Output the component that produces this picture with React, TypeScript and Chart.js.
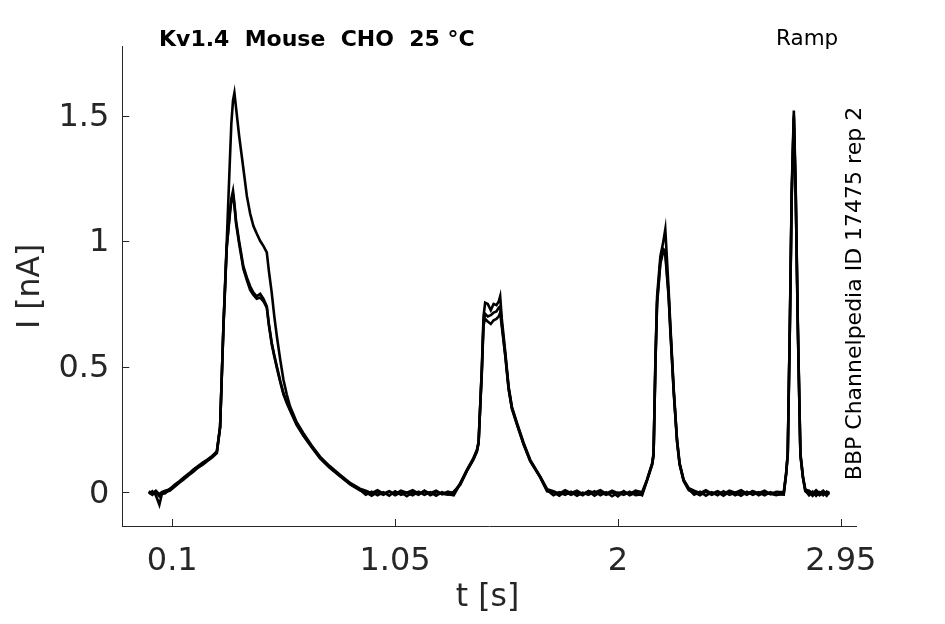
import { useEffect, useRef } from "react";
import { Chart, registerables } from "chart.js";

Chart.register(...registerables);

// ---- data (time in s, current in nA) ----
const timeS = [
  0.000, 0.015, 0.030, 0.045, 0.055, 0.070, 0.090, 0.110, 0.130, 0.150, 0.170, 0.190, 0.210, 0.230, 0.250, 0.270, 0.290,
  0.304, 0.318, 0.332, 0.346, 0.352, 0.359, 0.365, 0.372, 0.385, 0.403, 0.418, 0.432, 0.446, 0.460, 0.475, 0.489, 0.503,
  0.512, 0.524, 0.535, 0.546, 0.560, 0.574, 0.588, 0.602, 0.630, 0.659, 0.695, 0.730, 0.770, 0.815, 0.860, 0.900,
  0.925, 0.950, 0.975, 1.000, 1.025, 1.050, 1.075, 1.100, 1.125, 1.150, 1.175, 1.200, 1.225, 1.250, 1.275, 1.300,
  1.328, 1.356, 1.384, 1.399, 1.406, 1.420, 1.427, 1.434, 1.445, 1.458, 1.470, 1.482, 1.492, 1.498, 1.505, 1.520,
  1.534, 1.548, 1.570, 1.598, 1.626, 1.669, 1.698,
  1.725, 1.750, 1.775, 1.800, 1.825, 1.850, 1.875, 1.900, 1.925, 1.950, 1.975, 2.000, 2.025, 2.050, 2.075, 2.103,
  2.124, 2.146, 2.152, 2.160, 2.167, 2.181, 2.192, 2.202, 2.216, 2.223, 2.238, 2.252, 2.263, 2.280, 2.302,
  2.325, 2.350, 2.375, 2.400, 2.425, 2.450, 2.475, 2.500, 2.525, 2.550, 2.575, 2.600, 2.625, 2.650, 2.675, 2.707,
  2.717, 2.724, 2.733, 2.741, 2.750, 2.758, 2.767, 2.778, 2.789, 2.799,
  2.815, 2.830, 2.845, 2.860, 2.875, 2.890, 2.900,
];

const sweepA = [
  0.004, -0.006, 0.006, -0.008, 0.000, 0.006, 0.012, 0.030, 0.044, 0.060, 0.074, 0.090, 0.104, 0.118, 0.130, 0.144, 0.162,
  0.262, 0.660, 0.990, 1.330, 1.470, 1.560, 1.590, 1.530, 1.420, 1.290, 1.180, 1.110, 1.060, 1.030, 1.000, 0.980, 0.955,
  0.880, 0.795, 0.700, 0.620, 0.530, 0.448, 0.390, 0.342, 0.280, 0.235, 0.185, 0.142, 0.105, 0.070, 0.036, 0.014,
  0.006, -0.004, 0.008, -0.006, 0.004, -0.008, 0.006, -0.002, 0.008, -0.006, 0.004, -0.004, 0.006, -0.008, 0.002, -0.004,
  0.036, 0.089, 0.136, 0.169, 0.200, 0.500, 0.700, 0.755, 0.750, 0.725, 0.750, 0.745, 0.760, 0.780, 0.690, 0.556,
  0.420, 0.340, 0.275, 0.196, 0.129, 0.062, 0.012,
  0.004, -0.006, 0.008, -0.004, 0.006, -0.008, 0.004, -0.002, 0.008, -0.006, 0.006, -0.004, 0.002, -0.008, 0.006, 0.000,
  0.050, 0.116, 0.156, 0.540, 0.780, 0.940, 0.990, 1.047, 0.810, 0.675, 0.410, 0.210, 0.116, 0.050, 0.016,
  0.006, -0.004, 0.008, -0.006, 0.004, -0.008, 0.006, -0.002, 0.008, -0.006, 0.004, -0.004, 0.006, -0.008, 0.002, 0.000,
  0.076, 0.156, 0.675, 1.207, 1.520, 1.207, 0.675, 0.156, 0.062, 0.010,
  0.006, -0.006, 0.008, -0.004, 0.006, -0.008, 0.004,
];

const sweepB = [
  -0.006, 0.004, -0.012, -0.050, -0.010, 0.000, 0.006, 0.022, 0.038, 0.052, 0.068, 0.082, 0.098, 0.110, 0.124, 0.138, 0.156,
  0.258, 0.650, 0.970, 1.120, 1.170, 1.200, 1.150, 1.080, 1.000, 0.900, 0.855, 0.820, 0.795, 0.780, 0.790, 0.770, 0.740,
  0.670, 0.595, 0.545, 0.500, 0.445, 0.395, 0.360, 0.330, 0.272, 0.228, 0.180, 0.138, 0.100, 0.066, 0.032, 0.010,
  -0.010, 0.002, -0.012, 0.000, -0.014, 0.004, -0.010, -0.002, -0.012, 0.002, -0.010, 0.000, -0.014, 0.000, -0.008, -0.012,
  0.034, 0.086, 0.133, 0.166, 0.200, 0.490, 0.680, 0.710, 0.700, 0.705, 0.715, 0.720, 0.735, 0.740, 0.670, 0.545,
  0.415, 0.336, 0.270, 0.192, 0.126, 0.060, 0.008,
  -0.012, 0.000, -0.010, 0.002, -0.014, -0.002, -0.010, 0.004, -0.012, 0.000, -0.016, -0.002, -0.010, 0.002, -0.012, -0.008,
  0.048, 0.112, 0.150, 0.520, 0.760, 0.920, 0.970, 0.960, 0.790, 0.660, 0.400, 0.205, 0.112, 0.048, 0.012,
  -0.010, 0.002, -0.014, 0.000, -0.012, 0.004, -0.010, -0.002, -0.014, 0.002, -0.010, 0.000, -0.012, 0.000, -0.008, -0.010,
  0.072, 0.150, 0.660, 1.190, 1.500, 1.190, 0.660, 0.150, 0.058, 0.006,
  -0.012, 0.002, -0.014, 0.000, -0.012, 0.002, -0.010,
];

const sweepC = [
  0.000, -0.010, 0.002, -0.016, -0.006, -0.004, 0.014, 0.026, 0.040, 0.056, 0.070, 0.086, 0.100, 0.114, 0.128, 0.142, 0.160,
  0.260, 0.655, 0.975, 1.110, 1.160, 1.185, 1.140, 1.070, 0.990, 0.890, 0.845, 0.805, 0.785, 0.770, 0.775, 0.760, 0.735,
  0.665, 0.590, 0.540, 0.495, 0.440, 0.390, 0.355, 0.325, 0.268, 0.225, 0.178, 0.135, 0.098, 0.064, 0.030, 0.008,
  0.000, -0.014, 0.000, -0.010, 0.002, -0.012, 0.000, -0.016, 0.000, -0.010, 0.006, -0.012, 0.000, -0.006, -0.010, 0.002,
  0.030, 0.084, 0.130, 0.162, 0.195, 0.480, 0.665, 0.690, 0.680, 0.670, 0.685, 0.690, 0.700, 0.715, 0.660, 0.540,
  0.410, 0.332, 0.268, 0.190, 0.124, 0.058, 0.004,
  0.000, -0.014, 0.002, -0.010, 0.000, -0.012, 0.004, -0.014, 0.000, -0.010, 0.000, -0.016, 0.004, -0.012, -0.002, -0.012,
  0.046, 0.110, 0.148, 0.510, 0.750, 0.910, 0.955, 0.945, 0.780, 0.650, 0.395, 0.200, 0.110, 0.045, 0.008,
  0.000, -0.012, 0.002, -0.010, 0.000, -0.014, 0.002, -0.012, 0.000, -0.010, 0.004, -0.012, 0.000, -0.006, -0.012, -0.004,
  0.070, 0.148, 0.650, 1.180, 1.490, 1.180, 0.650, 0.148, 0.056, 0.004,
  0.000, -0.014, 0.002, -0.012, 0.000, -0.014, 0.000,
];

const xTickValues = [0.1, 1.05, 2, 2.95];
const xTickLabels = ["0.1", "1.05", "2", "2.95"];
const yTickValues = [0, 0.5, 1, 1.5];
const yTickLabels = ["0", "0.5", "1", "1.5"];

const titleText = "Kv1.4  Mouse  CHO  25 °C";
const protocolText = "Ramp";
const sourceText = "BBP Channelpedia ID 17475 rep 2";
const xAxisLabel = "t [s]";
const yAxisLabel = "I [nA]";

// ---- styling ----
const FONT = "'DejaVu Sans', sans-serif";
const AXIS_COLOR = "#262626";
const W = 945;
const H = 624;

const annotatePlugin = {
  id: "annotate",
  afterDraw(chart: any) {
    const ctx = chart.ctx as CanvasRenderingContext2D;
    const area = chart.chartArea;
    const xs = chart.scales.x;
    const ys = chart.scales.y;
    ctx.save();
    // inward tick marks
    ctx.strokeStyle = AXIS_COLOR;
    ctx.lineWidth = 1;
    ctx.beginPath();
    xs.ticks.forEach((t: any) => {
      const p = Math.round(xs.getPixelForValue(t.value)) + 0.5;
      ctx.moveTo(p, area.bottom);
      ctx.lineTo(p, area.bottom - 7);
    });
    ys.ticks.forEach((t: any) => {
      const p = Math.round(ys.getPixelForValue(t.value)) + 0.5;
      ctx.moveTo(area.left, p);
      ctx.lineTo(area.left + 7, p);
    });
    ctx.stroke();

    // title
    ctx.fillStyle = "#000";
    ctx.textBaseline = "alphabetic";
    ctx.textAlign = "left";
    ctx.font = `bold 22px ${FONT}`;
    ctx.fillText(titleText, 159, 45.5);
    ctx.font = `21.5px ${FONT}`;
    ctx.fillText(protocolText, 776, 45);

    // rotated source text
    ctx.save();
    ctx.translate(860.5, 293.5);
    ctx.rotate(-Math.PI / 2);
    ctx.textAlign = "center";
    ctx.font = `22px ${FONT}`;
    ctx.fillText(sourceText, 0, 0);
    ctx.restore();

    // axis labels
    ctx.fillStyle = AXIS_COLOR;
    ctx.font = `31.5px ${FONT}`;
    ctx.textAlign = "center";
    ctx.fillText(xAxisLabel, (area.left + area.right) / 2 - 2, 606);
    ctx.save();
    ctx.translate(38.5, (area.top + area.bottom) / 2);
    ctx.rotate(-Math.PI / 2);
    ctx.fillText(yAxisLabel, 0, 0);
    ctx.restore();

    ctx.restore();
  },
};

export default function App() {
  const canvasRef = useRef<HTMLCanvasElement | null>(null);

  useEffect(() => {
    const canvas = canvasRef.current;
    if (!canvas) return;
    const mk = (vals: number[], label: string) => ({
      label,
      data: timeS.map((t, i) => ({ x: t, y: vals[i] })),
      borderColor: "#000000",
      backgroundColor: "#000000",
      borderWidth: 2.6,
      pointRadius: 0,
      tension: 0,
      fill: false,
    });
    const chart = new Chart(canvas, {
      type: "line",
      data: {
        datasets: [mk(sweepC, "sweep 3"), mk(sweepB, "sweep 2"), mk(sweepA, "sweep 1")],
      },
      options: {
        responsive: false,
        animation: false,
        devicePixelRatio: 1,
        layout: { padding: { top: 46.7, right: 88.3, bottom: 0, left: 0 } },
        plugins: {
          legend: { display: false },
          tooltip: { enabled: false },
          title: { display: false },
        },
        scales: {
          x: {
            type: "linear",
            min: -0.113,
            max: 3.018,
            afterBuildTicks: (s: any) => {
              s.ticks = xTickValues.map((v) => ({ value: v }));
            },
            afterFit: (s: any) => {
              s.height = H - 526;
            },
            grid: { display: false, drawTicks: false },
            border: { display: true, color: AXIS_COLOR, width: 1 },
            ticks: {
              autoSkip: false,
              maxRotation: 0,
              padding: 16,
              color: AXIS_COLOR,
              font: { family: FONT, size: 32 },
              callback: (v: any) => {
                const i = xTickValues.indexOf(Number(v));
                return i >= 0 ? xTickLabels[i] : "";
              },
            },
          },
          y: {
            type: "linear",
            min: -0.1345,
            max: 1.774,
            afterBuildTicks: (s: any) => {
              s.ticks = yTickValues.map((v) => ({ value: v }));
            },
            afterFit: (s: any) => {
              s.width = 122.3;
            },
            grid: { display: false, drawTicks: false },
            border: { display: true, color: AXIS_COLOR, width: 1 },
            ticks: {
              autoSkip: false,
              padding: 13,
              labelOffset: 2,
              color: AXIS_COLOR,
              font: { family: FONT, size: 32 },
              callback: (v: any) => {
                const i = yTickValues.indexOf(Number(v));
                return i >= 0 ? yTickLabels[i] : "";
              },
            },
          },
        },
      },
      plugins: [annotatePlugin],
    });
    return () => chart.destroy();
  }, []);

  return (
    <div style={{ position: "fixed", left: 0, top: 0, width: W, height: H, background: "#fff" }}>
      <canvas ref={canvasRef} width={W} height={H} style={{ display: "block" }} />
    </div>
  );
}
